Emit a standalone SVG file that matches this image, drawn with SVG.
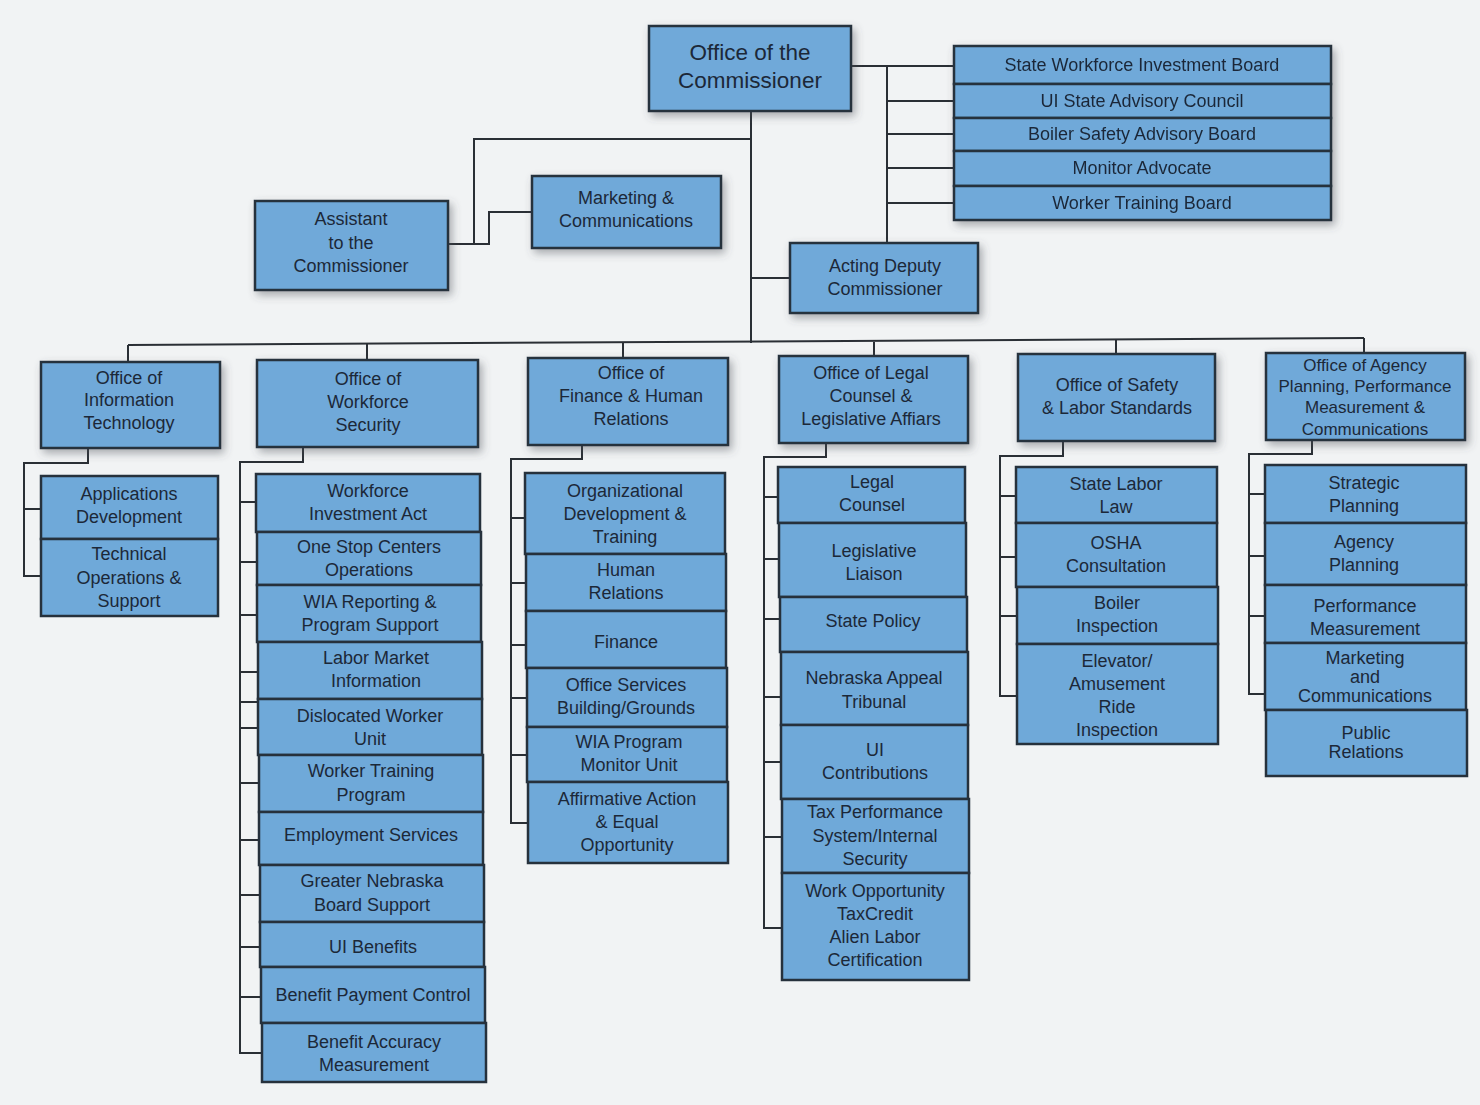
<svg xmlns="http://www.w3.org/2000/svg" width="1480" height="1105" viewBox="0 0 1480 1105">
<defs>
<filter id="sh" x="-20%" y="-20%" width="140%" height="150%">
<feDropShadow dx="3" dy="4" stdDeviation="4" flood-color="#4a5058" flood-opacity="0.45"/>
</filter>
<style>
.box{fill:#6fa9d9;stroke:#26313c;stroke-width:2.5}
.t{font-family:"Liberation Sans",Arial,sans-serif;font-size:18px;fill:#1c2838;text-anchor:middle}
.big{font-size:22.5px}
.sm{font-size:17px}
.c{fill:none;stroke:#2a2f35;stroke-width:2}
</style>
</defs>
<rect width="1480" height="1105" fill="#f1f3f4"/>

<g id="connectors" class="c">
<path d="M751 111V343"/>
<path d="M128 345L1364 338"/>
<path d="M128 345V362M367 344V360M623 343V358M874 342V356M1116 340V354M1364 338V353"/>
<path d="M851 66H954M887 66V243M887 101H954M887 134H954M887 168H954M887 203H954"/>
<path d="M751 278H790"/>
<path d="M751 139H474V244M448 244H489V212H532"/>
<path d="M88 448V463H24V576H41M24 509H41"/>
<path d="M303 447V462H240V1053H262M240 502H256M240 562H257M240 615H257M240 672H258M240 702H258M240 728H258M240 783H259M240 840H259M240 895H260M240 947H260M240 997H261"/>
<path d="M582 445V459H511V823H528M511 518H525M511 583H526M511 645H526M511 698H527M511 755H527"/>
<path d="M826 443V457H764V928H782M764 497H778M764 559H779M764 619H780M764 697H781M764 762H781M764 837H782"/>
<path d="M1063 441V456H1000V696H1017M1000 496H1016M1000 557H1016M1000 616H1017"/>
<path d="M1312 440V454H1249V694H1265M1249 494H1265M1249 556H1265M1249 616H1265"/>
</g>

<g id="commissioner"><rect class="box" filter="url(#sh)" x="649" y="26" width="202" height="85"/>
<text class="t big"><tspan x="750" y="60">Office of the</tspan><tspan x="750" y="88">Commissioner</tspan></text></g>

<g id="boards" filter="url(#sh)">
<g id="swib"><rect class="box" x="954" y="46" width="377" height="38"/><text class="t" x="1142" y="71">State Workforce Investment Board</text></g>
<g id="uisac"><rect class="box" x="954" y="84" width="377" height="34"/><text class="t" x="1142" y="107">UI State Advisory Council</text></g>
<g id="bsab"><rect class="box" x="954" y="118" width="377" height="33"/><text class="t" x="1142" y="140">Boiler Safety Advisory Board</text></g>
<g id="monitor"><rect class="box" x="954" y="151" width="377" height="35"/><text class="t" x="1142" y="174">Monitor Advocate</text></g>
<g id="wtb"><rect class="box" x="954" y="186" width="377" height="34"/><text class="t" x="1142" y="209">Worker Training Board</text></g>
</g>

<g id="assistant"><rect class="box" filter="url(#sh)" x="255" y="201" width="193" height="89"/>
<text class="t"><tspan x="351" y="225">Assistant</tspan><tspan x="351" y="249">to the</tspan><tspan x="351" y="272">Commissioner</tspan></text></g>

<g id="marketing"><rect class="box" filter="url(#sh)" x="532" y="176" width="189" height="72"/>
<text class="t"><tspan x="626" y="204">Marketing &amp;</tspan><tspan x="626" y="227">Communications</tspan></text></g>

<g id="deputy"><rect class="box" filter="url(#sh)" x="790" y="243" width="188" height="70"/>
<text class="t"><tspan x="885" y="272">Acting Deputy</tspan><tspan x="885" y="295">Commissioner</tspan></text></g>

<g id="oit"><rect class="box" filter="url(#sh)" x="41" y="362" width="179" height="86"/>
<text class="t"><tspan x="129" y="384">Office of</tspan><tspan x="129" y="406">Information</tspan><tspan x="129" y="429">Technology</tspan></text></g>

<g id="ows"><rect class="box" filter="url(#sh)" x="257" y="360" width="221" height="87"/>
<text class="t"><tspan x="368" y="385">Office of</tspan><tspan x="368" y="408">Workforce</tspan><tspan x="368" y="431">Security</tspan></text></g>

<g id="ofhr"><rect class="box" filter="url(#sh)" x="528" y="358" width="200" height="87"/>
<text class="t"><tspan x="631" y="379">Office of</tspan><tspan x="631" y="402">Finance &amp; Human</tspan><tspan x="631" y="425">Relations</tspan></text></g>

<g id="olc"><rect class="box" filter="url(#sh)" x="779" y="356" width="189" height="87"/>
<text class="t"><tspan x="871" y="379">Office of Legal</tspan><tspan x="871" y="402">Counsel &amp;</tspan><tspan x="871" y="425">Legislative Affiars</tspan></text></g>

<g id="osls"><rect class="box" filter="url(#sh)" x="1018" y="354" width="197" height="87"/>
<text class="t"><tspan x="1117" y="391">Office of Safety</tspan><tspan x="1117" y="414">&amp; Labor Standards</tspan></text></g>

<g id="oap"><rect class="box" filter="url(#sh)" x="1266" y="353" width="199" height="87"/>
<text class="t sm"><tspan x="1365" y="371">Office of Agency</tspan><tspan x="1365" y="392">Planning, Performance</tspan><tspan x="1365" y="413">Measurement &amp;</tspan><tspan x="1365" y="435">Communications</tspan></text></g>

<g id="it-units">
<g id="appdev"><rect class="box" x="41" y="476" width="177" height="63"/><text class="t"><tspan x="129" y="500">Applications</tspan><tspan x="129" y="523">Development</tspan></text></g>
<g id="techops"><rect class="box" x="41" y="539" width="177" height="77"/><text class="t"><tspan x="129" y="560">Technical</tspan><tspan x="129" y="584">Operations &amp;</tspan><tspan x="129" y="607">Support</tspan></text></g>
</g>

<g id="ws-units">
<g id="wia"><rect class="box" x="256" y="474" width="224" height="58"/><text class="t"><tspan x="368" y="497">Workforce</tspan><tspan x="368" y="520">Investment Act</tspan></text></g>
<g id="onestop"><rect class="box" x="257" y="532" width="224" height="53"/><text class="t"><tspan x="369" y="553">One Stop Centers</tspan><tspan x="369" y="576">Operations</tspan></text></g>
<g id="wiarep"><rect class="box" x="257" y="585" width="224" height="57"/><text class="t"><tspan x="370" y="608">WIA Reporting &amp;</tspan><tspan x="370" y="631">Program Support</tspan></text></g>
<g id="lmi"><rect class="box" x="258" y="642" width="224" height="57"/><text class="t"><tspan x="376" y="664">Labor Market</tspan><tspan x="376" y="687">Information</tspan></text></g>
<g id="dwu"><rect class="box" x="258" y="699" width="224" height="56"/><text class="t"><tspan x="370" y="722">Dislocated Worker</tspan><tspan x="370" y="745">Unit</tspan></text></g>
<g id="wtp"><rect class="box" x="259" y="755" width="224" height="57"/><text class="t"><tspan x="371" y="777">Worker Training</tspan><tspan x="371" y="801">Program</tspan></text></g>
<g id="es"><rect class="box" x="259" y="812" width="224" height="53"/><text class="t" x="371" y="841">Employment Services</text></g>
<g id="gnbs"><rect class="box" x="260" y="865" width="224" height="57"/><text class="t"><tspan x="372" y="887">Greater Nebraska</tspan><tspan x="372" y="911">Board Support</tspan></text></g>
<g id="uib"><rect class="box" x="260" y="922" width="224" height="45"/><text class="t" x="373" y="953">UI Benefits</text></g>
<g id="bpc"><rect class="box" x="261" y="967" width="224" height="56"/><text class="t" x="373" y="1001">Benefit Payment Control</text></g>
<g id="bam"><rect class="box" x="262" y="1023" width="224" height="59"/><text class="t"><tspan x="374" y="1048">Benefit Accuracy</tspan><tspan x="374" y="1071">Measurement</tspan></text></g>
</g>

<g id="fin-units">
<g id="odt"><rect class="box" x="525" y="473" width="200" height="81"/><text class="t"><tspan x="625" y="497">Organizational</tspan><tspan x="625" y="520">Development &amp;</tspan><tspan x="625" y="543">Training</tspan></text></g>
<g id="hr"><rect class="box" x="526" y="554" width="200" height="57"/><text class="t"><tspan x="626" y="576">Human</tspan><tspan x="626" y="599">Relations</tspan></text></g>
<g id="finance"><rect class="box" x="526" y="611" width="200" height="57"/><text class="t" x="626" y="648">Finance</text></g>
<g id="osb"><rect class="box" x="527" y="668" width="200" height="59"/><text class="t"><tspan x="626" y="691">Office Services</tspan><tspan x="626" y="714">Building/Grounds</tspan></text></g>
<g id="wiapm"><rect class="box" x="527" y="727" width="200" height="55"/><text class="t"><tspan x="629" y="748">WIA Program</tspan><tspan x="629" y="771">Monitor Unit</tspan></text></g>
<g id="aaeo"><rect class="box" x="528" y="782" width="200" height="81"/><text class="t"><tspan x="627" y="805">Affirmative Action</tspan><tspan x="627" y="828">&amp; Equal</tspan><tspan x="627" y="851">Opportunity</tspan></text></g>
</g>

<g id="legal-units">
<g id="lc"><rect class="box" x="778" y="467" width="187" height="56"/><text class="t"><tspan x="872" y="488">Legal</tspan><tspan x="872" y="511">Counsel</tspan></text></g>
<g id="ll"><rect class="box" x="779" y="523" width="187" height="74"/><text class="t"><tspan x="874" y="557">Legislative</tspan><tspan x="874" y="580">Liaison</tspan></text></g>
<g id="sp"><rect class="box" x="780" y="597" width="187" height="55"/><text class="t" x="873" y="627">State Policy</text></g>
<g id="nat"><rect class="box" x="781" y="652" width="187" height="73"/><text class="t"><tspan x="874" y="684">Nebraska Appeal</tspan><tspan x="874" y="708">Tribunal</tspan></text></g>
<g id="uic"><rect class="box" x="781" y="725" width="187" height="74"/><text class="t"><tspan x="875" y="756">UI</tspan><tspan x="875" y="779">Contributions</tspan></text></g>
<g id="tps"><rect class="box" x="782" y="799" width="187" height="74"/><text class="t"><tspan x="875" y="818">Tax Performance</tspan><tspan x="875" y="842">System/Internal</tspan><tspan x="875" y="865">Security</tspan></text></g>
<g id="wotc"><rect class="box" x="782" y="873" width="187" height="107"/><text class="t"><tspan x="875" y="897">Work Opportunity</tspan><tspan x="875" y="920">TaxCredit</tspan><tspan x="875" y="943">Alien Labor</tspan><tspan x="875" y="966">Certification</tspan></text></g>
</g>

<g id="safety-units">
<g id="sll"><rect class="box" x="1016" y="467" width="201" height="56"/><text class="t"><tspan x="1116" y="490">State Labor</tspan><tspan x="1116" y="513">Law</tspan></text></g>
<g id="osha"><rect class="box" x="1016" y="523" width="201" height="64"/><text class="t"><tspan x="1116" y="549">OSHA</tspan><tspan x="1116" y="572">Consultation</tspan></text></g>
<g id="boiler"><rect class="box" x="1017" y="587" width="201" height="57"/><text class="t"><tspan x="1117" y="609">Boiler</tspan><tspan x="1117" y="632">Inspection</tspan></text></g>
<g id="elevator"><rect class="box" x="1017" y="644" width="201" height="100"/><text class="t"><tspan x="1117" y="667">Elevator/</tspan><tspan x="1117" y="690">Amusement</tspan><tspan x="1117" y="713">Ride</tspan><tspan x="1117" y="736">Inspection</tspan></text></g>
</g>

<g id="agency-units">
<g id="strat"><rect class="box" x="1265" y="465" width="201" height="58"/><text class="t"><tspan x="1364" y="489">Strategic</tspan><tspan x="1364" y="512">Planning</tspan></text></g>
<g id="agplan"><rect class="box" x="1265" y="523" width="201" height="62"/><text class="t"><tspan x="1364" y="548">Agency</tspan><tspan x="1364" y="571">Planning</tspan></text></g>
<g id="perf"><rect class="box" x="1265" y="585" width="201" height="58"/><text class="t"><tspan x="1365" y="612">Performance</tspan><tspan x="1365" y="635">Measurement</tspan></text></g>
<g id="mktcomm"><rect class="box" x="1265" y="643" width="201" height="67"/><text class="t"><tspan x="1365" y="664">Marketing</tspan><tspan x="1365" y="683">and</tspan><tspan x="1365" y="702">Communications</tspan></text></g>
<g id="pr"><rect class="box" x="1266" y="710" width="201" height="66"/><text class="t"><tspan x="1366" y="739">Public</tspan><tspan x="1366" y="758">Relations</tspan></text></g>
</g>
</svg>
